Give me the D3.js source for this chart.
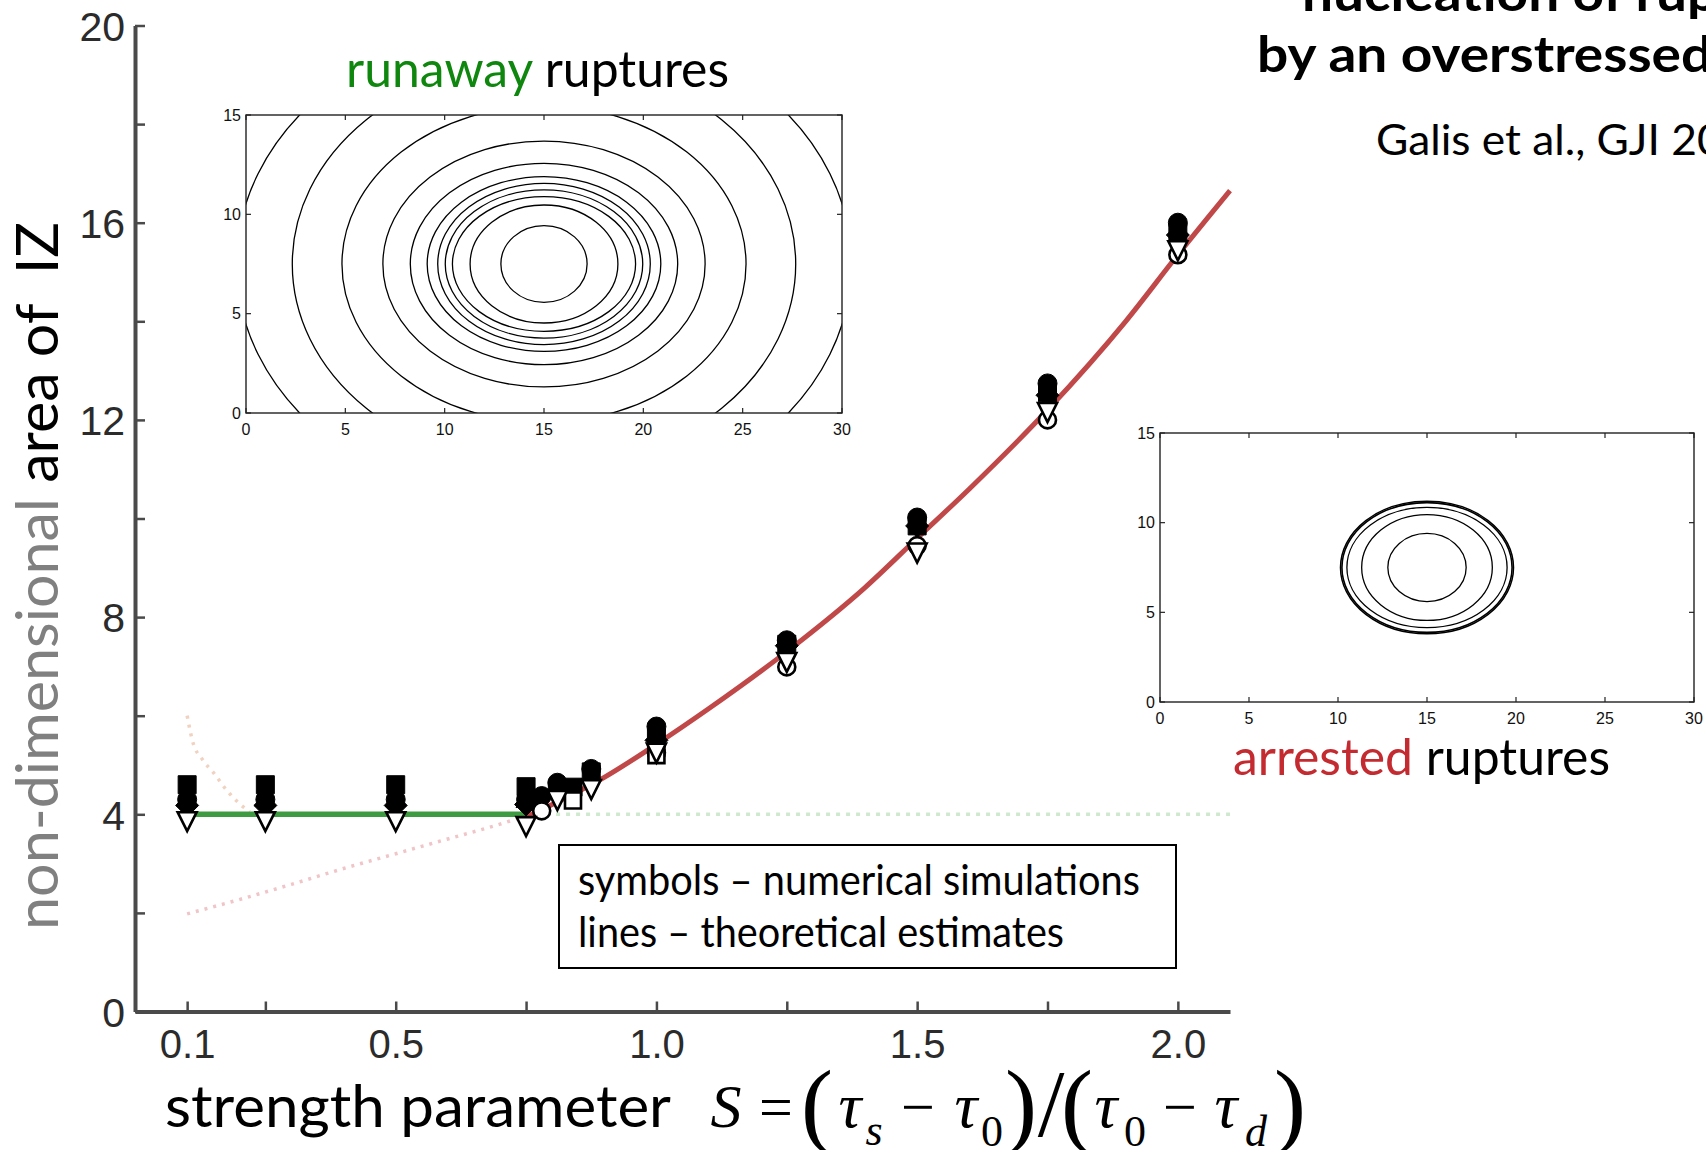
<!DOCTYPE html>
<html>
<head>
<meta charset="utf-8">
<script src="https://cdn.jsdelivr.net/npm/d3@7"></script>
<style>
  html, body { margin: 0; padding: 0; background: #fff; overflow: hidden; }
  svg { display: block; }
  text { white-space: pre; }
</style>
</head>
<body>
<svg id="chart" width="1706" height="1150"></svg>
<script>
// ---------------- data ----------------
// main axes
const xTicks = [0.1, 0.25, 0.5, 0.75, 1.0, 1.25, 1.5, 1.75, 2.0];
const xLabelValues = [0.1, 0.5, 1.0, 1.5, 2.0];
const xTickLabels = ["0.1", "0.5", "1.0", "1.5", "2.0"];
const yTicks = [0, 2, 4, 6, 8, 10, 12, 14, 16, 18, 20];
const yLabelValues = [0, 4, 8, 12, 16, 20];
const yTickLabels = ["0", "4", "8", "12", "16", "20"];

// theoretical estimates
const runawayS = [0.1, 0.75];            // solid green (runaway regime)
const runawayA = [4, 4];
const runawayExtS = [0.75, 2.1];         // dotted green continuation
const runawayExtA = [4, 4];
const arrestedS = [0.75, 0.8, 0.9, 1.0, 1.1, 1.25, 1.4, 1.5, 1.6, 1.75, 1.9, 2.0, 2.1];
const arrestedA = [3.95, 4.2, 4.75, 5.42, 6.14, 7.3, 8.6, 9.6, 10.6, 12.2, 14.0, 15.35, 16.65];
const arrestedLowS = [0.1, 0.2, 0.3, 0.4, 0.5, 0.6, 0.7, 0.75];   // dotted lower branch
const arrestedLowA = [1.98, 2.27, 2.58, 2.9, 3.2, 3.5, 3.8, 3.97];
const runawayHighS = [0.1, 0.11, 0.13, 0.15, 0.175, 0.2, 0.22];  // dotted upper branch
const runawayHighA = [6.0, 5.5, 5.1, 4.85, 4.5, 4.22, 4.05];

// numerical simulations
const filledDiamondS = [0.1, 0.25, 0.5, 0.75, 1.0, 1.25, 1.5, 1.75, 2.0];
const filledDiamondA = [4.18, 4.18, 4.18, 4.2, 5.5, 7.42, 9.85, 12.5, 15.75];
const filledTriangleS = [0.1, 0.25, 0.5, 0.75];
const filledTriangleA = [4.36, 4.36, 4.36, 4.34];
const filledSquareS = [0.1, 0.25, 0.5, 0.75, 0.81, 0.84, 0.875, 1.0, 1.25, 1.5, 1.75, 2.0];
const filledSquareA = [4.6, 4.6, 4.6, 4.56, 4.5, 4.55, 4.86, 5.55, 7.45, 9.85, 12.55, 15.8];
const filledCircleS = [0.1, 0.25, 0.5, 0.75, 0.78, 0.81, 0.875, 1.0, 1.25, 1.5, 1.75, 2.0];
const filledCircleA = [4.3, 4.3, 4.3, 4.3, 4.37, 4.64, 4.92, 5.78, 7.53, 10.02, 12.74, 16.0];
const openCircleS = [0.78, 1.0, 1.25, 1.5, 1.75, 2.0];
const openCircleA = [4.07, 5.25, 6.99, 9.45, 12.0, 15.35];
const openSquareS = [0.84, 1.0];
const openSquareA = [4.28, 5.2];
const openTriangleS = [0.1, 0.25, 0.5, 0.75, 0.81, 0.875, 1.0, 1.25, 1.5, 1.75, 2.0];
const openTriangleA = [3.85, 3.85, 3.85, 3.75, 4.28, 4.5, 5.24, 7.08, 9.3, 12.15, 15.43];

// rupture-front contours of the two insets (semi-axes, in km)
const insetCenter = [15, 7.5];
const runawayRx = [2.17, 3.72, 4.61, 4.97, 5.35, 5.88, 6.73, 8.11, 10.17, 12.67, 15.48];
const runawayRy = [1.93, 2.97, 3.39, 3.73, 4.06, 4.4, 5.07, 6.19, 7.97, 10.25, 12.35];
const arrestedRx = [2.2, 3.67, 4.5, 4.78, 4.86];
const arrestedRy = [1.9, 2.95, 3.35, 3.62, 3.7];
const insetXTicks = [0, 5, 10, 15, 20, 25, 30];
const insetYTicks = [0, 5, 10, 15];

// ---------------- drawing ----------------
const svg = d3.select("#chart");
const X = d3.scaleLinear().domain([0, 2.1]).range([135, 1230]);
const Y = d3.scaleLinear().domain([0, 20]).range([1011.5, 25.5]);

const CAL = "Lato, 'Open Sans', sans-serif";
const HEL = "'Liberation Sans', Arial, sans-serif";
const SER = "'Liberation Serif', 'Times New Roman', serif";

// scale a text to a given width (optionally measured on a leading part of it)
function fitText(sel, target, partial) {
  const node = sel.node();
  const natural = node.getComputedTextLength();
  let ref = natural;
  if (partial) {
    const tmp = svg.append("text")
      .attr("font-family", sel.attr("font-family"))
      .attr("font-size", sel.attr("font-size"))
      .attr("font-weight", sel.attr("font-weight"))
      .text(partial);
    ref = tmp.node().getComputedTextLength();
    tmp.remove();
  }
  const k = target / ref;
  sel.attr("textLength", natural * k).attr("lengthAdjust", "spacingAndGlyphs");
  return k;
}

// ---- theoretical lines ----
const line = d3.line().x(d => X(d[0])).y(d => Y(d[1])).curve(d3.curveMonotoneX);
const gLines = svg.append("g");

gLines.append("path").datum(d3.zip(runawayHighS, runawayHighA))
  .attr("d", line).attr("fill", "none")
  .attr("stroke", "#f1d2c0").attr("stroke-width", 3.5).attr("stroke-dasharray", "3,6");
gLines.append("path").datum(d3.zip(arrestedLowS, arrestedLowA))
  .attr("d", line).attr("fill", "none")
  .attr("stroke", "#f0c5c8").attr("stroke-width", 3.5).attr("stroke-dasharray", "3,6");
gLines.append("path").datum(d3.zip(runawayExtS, runawayExtA))
  .attr("d", line).attr("fill", "none")
  .attr("stroke", "#cfe9cf").attr("stroke-width", 3.5).attr("stroke-dasharray", "4,6");
gLines.append("path").datum(d3.zip(arrestedS, arrestedA))
  .attr("d", line).attr("fill", "none")
  .attr("stroke", "#c04848").attr("stroke-width", 5).attr("stroke-linecap", "butt");
gLines.append("path").datum(d3.zip(runawayS, runawayA))
  .attr("d", line).attr("fill", "none")
  .attr("stroke", "#3f9b42").attr("stroke-width", 5.5);

// ---- axes ----
const xAxis = d3.axisBottom(X).tickValues(xTicks).tickSizeInner(-10).tickSizeOuter(0)
  .tickFormat(d => { const i = xLabelValues.indexOf(d); return i >= 0 ? xTickLabels[i] : ""; });
const yAxis = d3.axisLeft(Y).tickValues(yTicks).tickSizeInner(-10).tickSizeOuter(0)
  .tickFormat(d => { const i = yLabelValues.indexOf(d); return i >= 0 ? yTickLabels[i] : ""; });

const gx = svg.append("g").attr("transform", `translate(0,${Y(0)})`).call(xAxis);
const gy = svg.append("g").attr("transform", `translate(${X(0)},0)`).call(yAxis);
[gx, gy].forEach(g => {
  g.select(".domain").attr("stroke", "#4a4a4a").attr("stroke-width", 4);
  g.selectAll(".tick line").attr("stroke", "#4a4a4a").attr("stroke-width", 2.5);
  g.selectAll(".tick text").attr("font-family", HEL).attr("fill", "#2b2b2b");
  g.selectAll(".tick text").filter(function () { return this.textContent === ""; }).remove();
});
gx.selectAll(".tick text").attr("font-size", 40).attr("y", 46).attr("dy", 0);
gy.selectAll(".tick text").attr("font-size", 41).attr("x", -10).attr("dy", "0.36em");

// ---- simulation symbols ----
const shapes = {
  square: s => { const h = s / 2; return `M${-h},${-h}H${h}V${h}H${-h}Z`; },
  circle: s => { const r = s / 2; return `M${r},0A${r},${r} 0 1,1 ${-r},0A${r},${r} 0 1,1 ${r},0Z`; },
  diamond: s => { const h = s / 2; return `M0,${-h}L${h},0L0,${h}L${-h},0Z`; },
  triUp: s => { const h = s / 2; return `M0,${-h}L${h},${h}H${-h}Z`; },
  triDown: s => { const h = s / 2; return `M${-h},${-h}H${h}L0,${h}Z`; }
};
const gSym = svg.append("g");
function drawSeries(S, A, shape, size, filled) {
  gSym.append("g").selectAll("path").data(d3.zip(S, A)).join("path")
    .attr("transform", d => `translate(${X(d[0])},${Y(d[1])})`)
    .attr("d", shapes[shape](size))
    .attr("fill", filled ? "#000" : "#fff")
    .attr("stroke", "#000")
    .attr("stroke-width", filled ? 1 : 2.6)
    .attr("stroke-linejoin", "miter");
}
drawSeries(filledDiamondS, filledDiamondA, "diamond", 23, true);
drawSeries(filledTriangleS, filledTriangleA, "triUp", 20, true);
drawSeries(filledSquareS, filledSquareA, "square", 18, true);
drawSeries(filledCircleS, filledCircleA, "circle", 19, true);
drawSeries(openCircleS, openCircleA, "circle", 17, false);
drawSeries(openSquareS, openSquareA, "square", 16, false);
drawSeries(openTriangleS, openTriangleA, "triDown", 19, false);

// ---- legend box ----
svg.append("rect").attr("x", 559).attr("y", 845).attr("width", 617).attr("height", 123)
  .attr("fill", "#fff").attr("stroke", "#000").attr("stroke-width", 2);
const leg1 = svg.append("text").attr("x", 578).attr("y", 895)
  .attr("font-family", CAL).attr("font-size", 42).attr("fill", "#000")
  .text("symbols \u2013 numerical simulations");
fitText(leg1, 562);
const leg2 = svg.append("text").attr("x", 578).attr("y", 947)
  .attr("font-family", CAL).attr("font-size", 42).attr("fill", "#000")
  .text("lines \u2013 theoretical estimates");
fitText(leg2, 486);

// ---- insets ----
function drawInset(id, x0, x1, y0, y1, rx, ry, widths) {
  const ix = d3.scaleLinear().domain([0, 30]).range([x0, x1]);
  const iy = d3.scaleLinear().domain([0, 15]).range([y1, y0]);
  const g = svg.append("g");
  g.append("rect").attr("x", x0).attr("y", y0).attr("width", x1 - x0).attr("height", y1 - y0).attr("fill", "#fff");
  svg.append("defs").append("clipPath").attr("id", id)
    .append("rect").attr("x", x0).attr("y", y0).attr("width", x1 - x0).attr("height", y1 - y0);
  g.append("g").attr("clip-path", `url(#${id})`).selectAll("ellipse")
    .data(d3.zip(rx, ry)).join("ellipse")
    .attr("cx", ix(insetCenter[0])).attr("cy", iy(insetCenter[1]))
    .attr("rx", d => ix(insetCenter[0] + d[0]) - ix(insetCenter[0]))
    .attr("ry", d => iy(insetCenter[1]) - iy(insetCenter[1] + d[1]))
    .attr("fill", "none").attr("stroke", "#000")
    .attr("stroke-width", (d, i) => widths[i]);
  // ticks on all four sides, pointing inward
  const tk = 5;
  const tg = g.append("g").attr("stroke", "#222").attr("stroke-width", 1.2);
  insetXTicks.forEach(v => {
    tg.append("line").attr("x1", ix(v)).attr("x2", ix(v)).attr("y1", y1).attr("y2", y1 - tk);
    tg.append("line").attr("x1", ix(v)).attr("x2", ix(v)).attr("y1", y0).attr("y2", y0 + tk);
  });
  insetYTicks.forEach(v => {
    tg.append("line").attr("x1", x0).attr("x2", x0 + tk).attr("y1", iy(v)).attr("y2", iy(v));
    tg.append("line").attr("x1", x1).attr("x2", x1 - tk).attr("y1", iy(v)).attr("y2", iy(v));
  });
  g.append("rect").attr("x", x0).attr("y", y0).attr("width", x1 - x0).attr("height", y1 - y0)
    .attr("fill", "none").attr("stroke", "#222").attr("stroke-width", 1.4);
  g.append("g").selectAll("text").data(insetXTicks).join("text")
    .attr("x", d => ix(d)).attr("y", y1 + 22).attr("text-anchor", "middle")
    .attr("font-family", HEL).attr("font-size", 16).attr("fill", "#111").text(d => d);
  g.append("g").selectAll("text").data(insetYTicks).join("text")
    .attr("x", x0 - 5).attr("y", d => iy(d)).attr("dy", "0.36em").attr("text-anchor", "end")
    .attr("font-family", HEL).attr("font-size", 16).attr("fill", "#111").text(d => d);
}
drawInset("clipRunaway", 246, 842, 115, 413, runawayRx, runawayRy, runawayRx.map(() => 1.3));
drawInset("clipArrested", 1160, 1694, 433, 702, arrestedRx, arrestedRy, [1.3, 1.3, 1.3, 1.6, 1.5]);

// ---- inset captions ----
const cap1 = svg.append("text").attr("x", 346).attr("y", 87)
  .attr("font-family", CAL).attr("font-size", 50);
cap1.append("tspan").attr("fill", "#0f870f").text("runaway");
cap1.append("tspan").attr("fill", "#000").text(" ruptures");
fitText(cap1, 383);
const cap2 = svg.append("text").attr("x", 1233).attr("y", 775)
  .attr("font-family", CAL).attr("font-size", 50);
cap2.append("tspan").attr("fill", "#c42b30").text("arrested");
cap2.append("tspan").attr("fill", "#000").text(" ruptures");
fitText(cap2, 377);

// ---- title and reference ----
const t2 = svg.append("text").attr("x", 1257).attr("y", 72)
  .attr("font-family", CAL).attr("font-size", 50).attr("font-weight", "bold").attr("fill", "#000")
  .text("by an overstressed volume");
const kT = fitText(t2, 424, "by an overstresse");
const t1 = svg.append("text").attr("x", 1302).attr("y", 11)
  .attr("font-family", CAL).attr("font-size", 50).attr("font-weight", "bold").attr("fill", "#000")
  .text("nucleation of ruptures");
t1.attr("textLength", t1.node().getComputedTextLength() * kT).attr("lengthAdjust", "spacingAndGlyphs");
const ref = svg.append("text").attr("x", 1376).attr("y", 155)
  .attr("font-family", CAL).attr("font-size", 42).attr("fill", "#000")
  .text("Galis et al., GJI 2015");
fitText(ref, 321, "Galis et al., GJI 2");

// ---- axis titles ----
const yTitle = svg.append("text")
  .attr("transform", "translate(58,930) rotate(-90)")
  .attr("font-family", CAL).attr("font-size", 58);
yTitle.append("tspan").attr("fill", "#808080").text("non-dimensional ");
yTitle.append("tspan").attr("fill", "#000").text("area of  IZ");
fitText(yTitle, 708);

const xTitle = svg.append("text").attr("x", 165).attr("y", 1127)
  .attr("font-family", CAL).attr("font-size", 58).attr("fill", "#000")
  .text("strength parameter");
fitText(xTitle, 506);

// formula S = (tau_s - tau_0)/(tau_0 - tau_d), one text run with placed glyphs
const glyphs = [
  { t: "S", x: 726, y: 1127, s: 62, i: true },
  { t: "=", x: 776, y: 1127, s: 60 },
  { t: "(", x: 817, y: 1136, s: 96 },
  { t: "\u03C4", x: 850, y: 1127, s: 64, i: true },
  { t: "s", x: 874, y: 1145, s: 44, i: true },
  { t: "\u2212", x: 918, y: 1127, s: 60 },
  { t: "\u03C4", x: 966, y: 1127, s: 64, i: true },
  { t: "0", x: 992, y: 1146, s: 44 },
  { t: ")", x: 1021, y: 1136, s: 96 },
  { t: "/", x: 1051, y: 1136, s: 96 },
  { t: "(", x: 1077, y: 1136, s: 96 },
  { t: "\u03C4", x: 1106, y: 1127, s: 64, i: true },
  { t: "0", x: 1135, y: 1146, s: 44 },
  { t: "\u2212", x: 1180, y: 1127, s: 60 },
  { t: "\u03C4", x: 1226, y: 1127, s: 64, i: true },
  { t: "d", x: 1256, y: 1146, s: 44, i: true },
  { t: ")", x: 1290, y: 1136, s: 96 }
];
const formula = svg.append("text").attr("font-family", SER).attr("fill", "#000").attr("text-anchor", "middle");
formula.selectAll("tspan").data(glyphs).join("tspan")
  .attr("x", d => d.x).attr("y", d => d.y).attr("font-size", d => d.s)
  .attr("font-style", d => d.i ? "italic" : "normal").text(d => d.t);
</script>
</body>
</html>
